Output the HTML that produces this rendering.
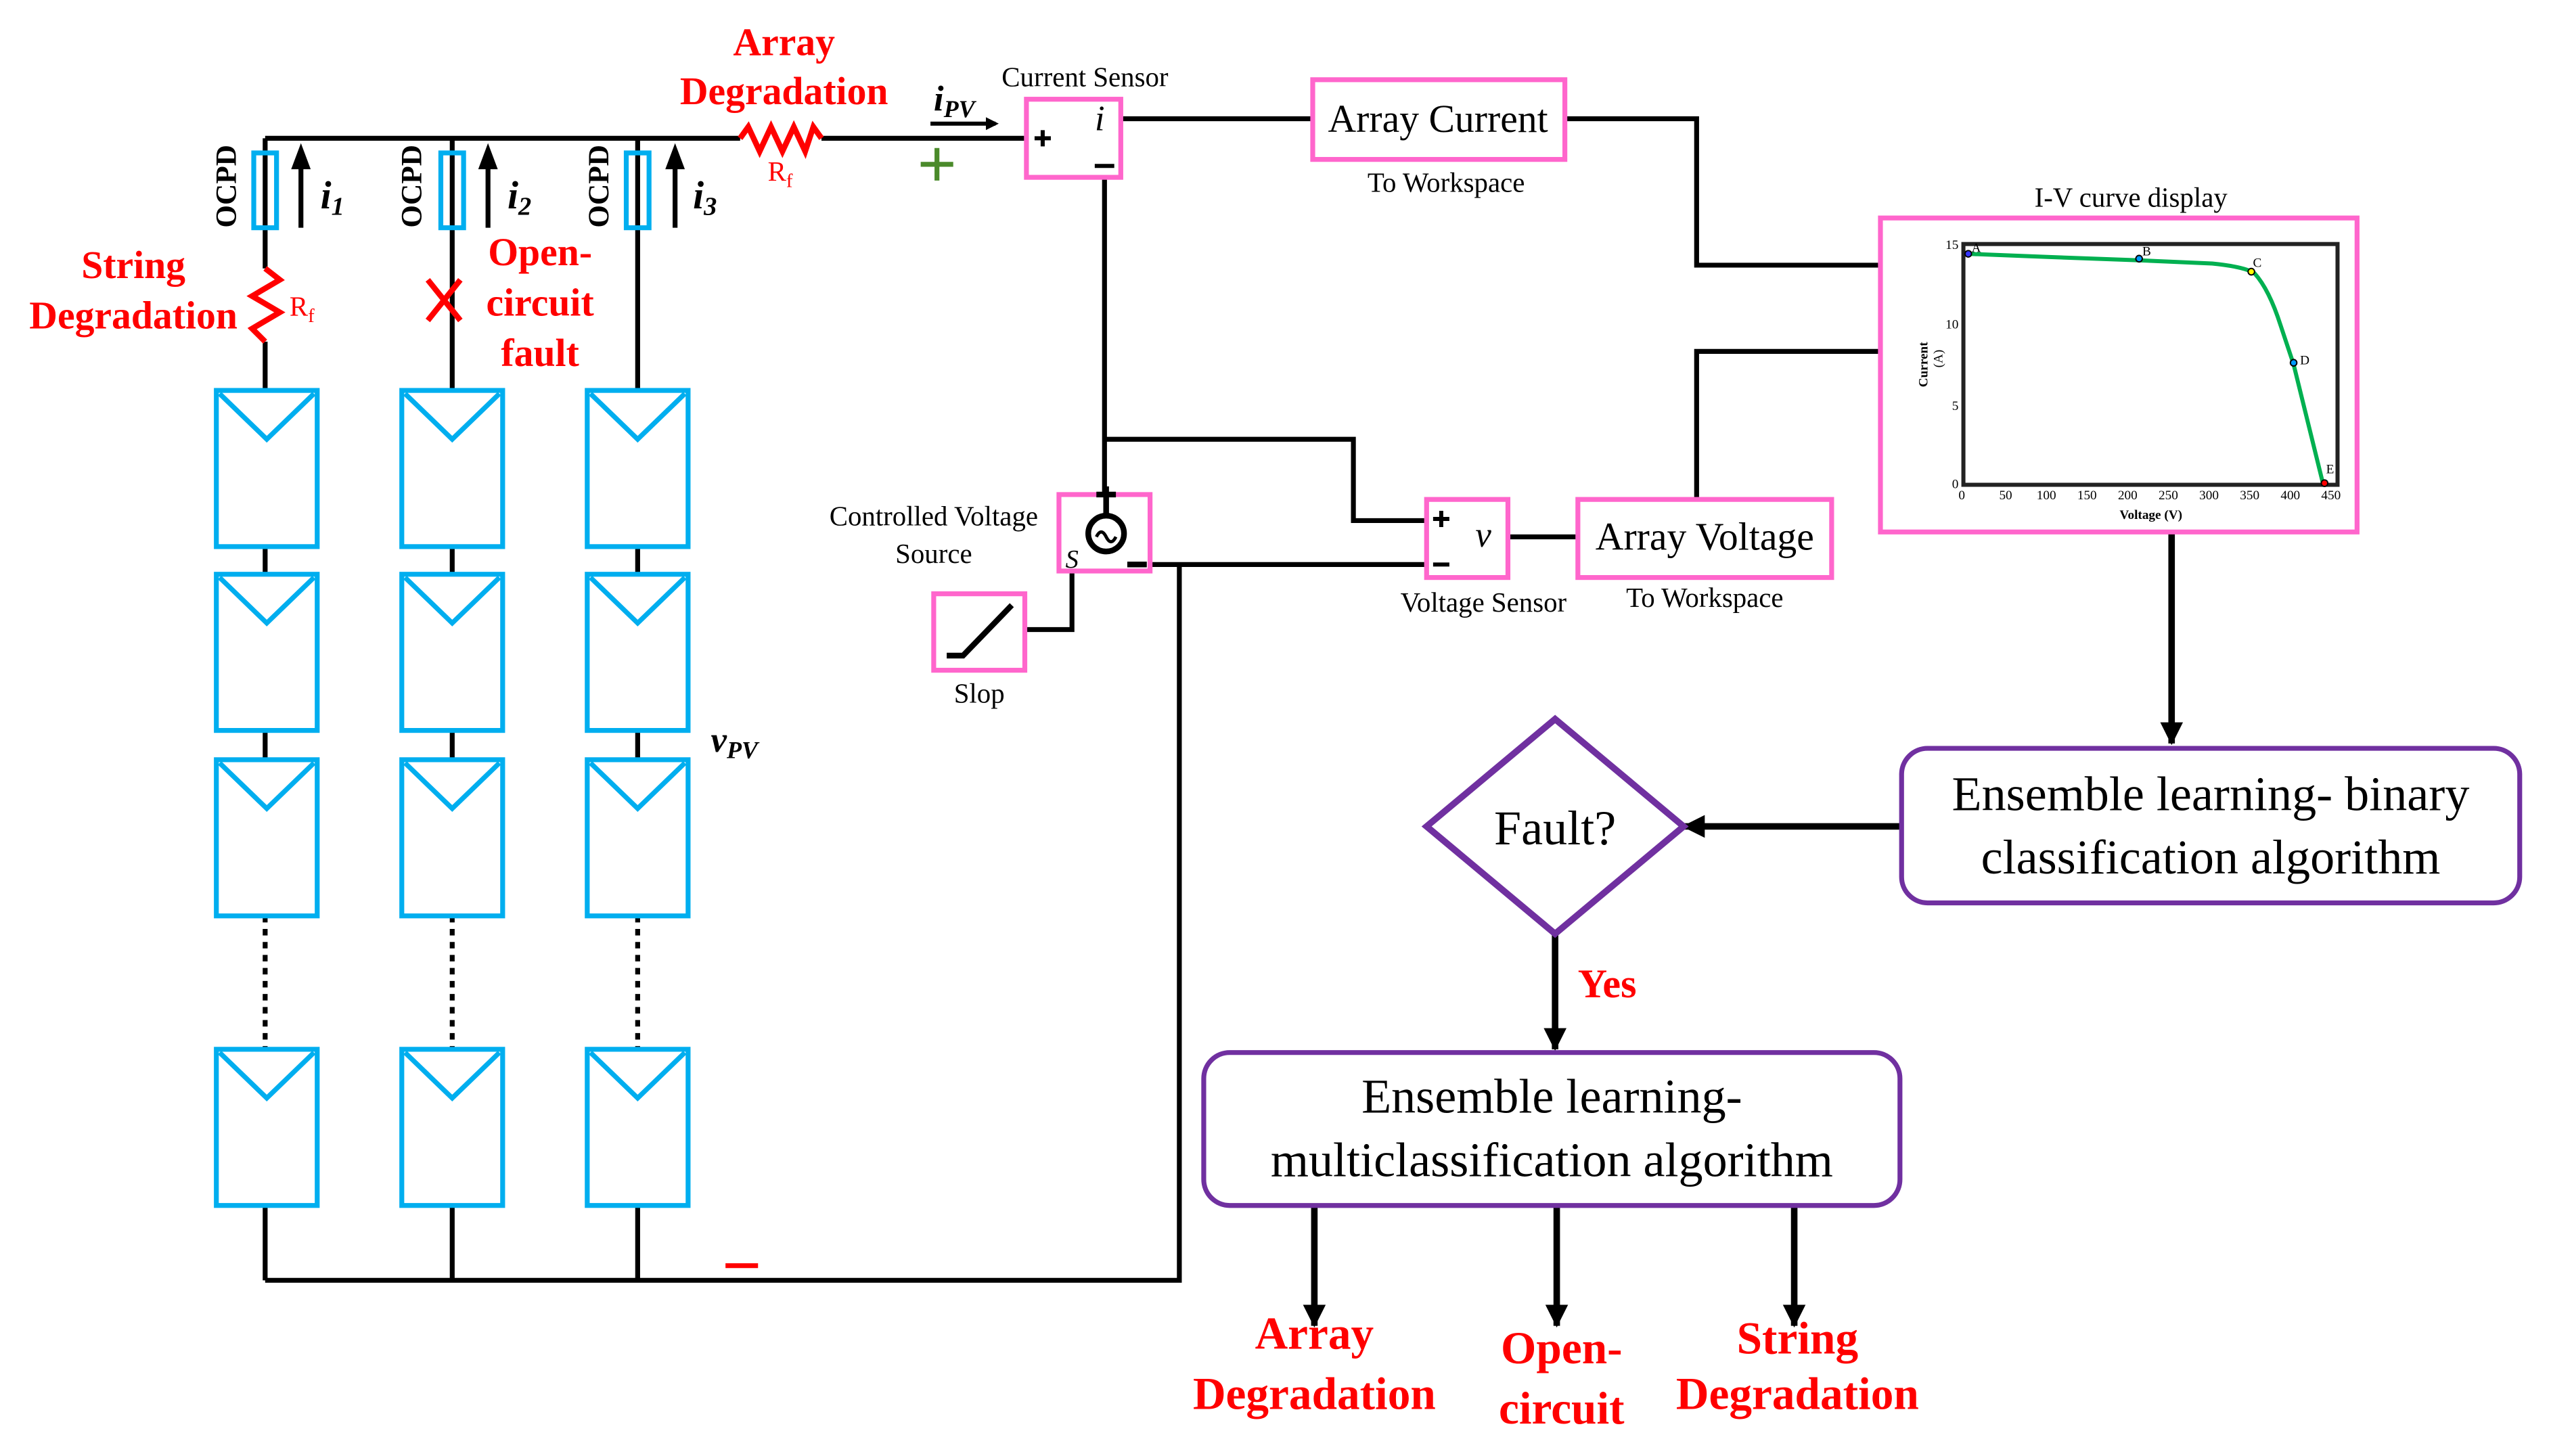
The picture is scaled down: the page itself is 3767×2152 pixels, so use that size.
<!DOCTYPE html>
<html><head><meta charset="utf-8"><style>
html,body{margin:0;padding:0;background:#fff;}
svg{display:block;font-family:"Liberation Serif","DejaVu Serif",serif;}
svg text{font-family:"Liberation Serif","DejaVu Serif",serif;}
</style></head><body>
<svg width="3767" height="2152" viewBox="0 0 1567 895" preserveAspectRatio="none" font-family="'Liberation Serif', 'DejaVu Serif', serif" xmlns="http://www.w3.org/2000/svg">
<defs>
<marker id="ah" markerWidth="8" markerHeight="8" refX="6" refY="4" orient="auto" markerUnits="userSpaceOnUse">
<path d="M0,0 L8,4 L0,8 Z" fill="#000"/></marker>
<marker id="am" markerWidth="14" markerHeight="14" refX="13" refY="7" orient="auto" markerUnits="userSpaceOnUse">
<path d="M0,0 L14,7 L0,14 Z" fill="#000"/></marker>
<g id="pv"><rect x="0" y="0" width="62" height="96" fill="none" stroke="#00aeef" stroke-width="3"/><path d="M2,2 L31,30 L60,2" fill="none" stroke="#00aeef" stroke-width="3"/></g>
</defs>

<g stroke="#000" stroke-width="3" fill="none">
<path d="M163,85 H455"/>
<path d="M505,85 H632"/>
<path d="M163,85 V165 M163,210 V240"/>
<path d="M278,85 V240"/>
<path d="M392,85 V240"/>
<path d="M163,336 V353 M163,450 V467 M163,742 V787"/>
<path d="M278,336 V353 M278,450 V467 M278,742 V787"/>
<path d="M392,336 V353 M392,450 V467 M392,742 V787"/>
<path d="M163,787 H725 V347"/>
<path d="M707,347 H877"/>
<path d="M679,109 V305"/>
<path d="M679,270 H832 V320 H877"/>
<path d="M689,73 H807"/>
<path d="M962,73 H1043 V163 H1156"/>
<path d="M1156,216 H1043 V307"/>
<path d="M927,330 H970"/>
<path d="M630,387 H659 V352"/>
<path d="M163,563 V645 M278,563 V645 M392,563 V645" stroke-dasharray="4,4"/>
</g>
<g stroke="#000" stroke-width="4" fill="none">
<path d="M1335,327 V457" marker-end="url(#am)"/>
<path d="M1169,508 H1035" marker-end="url(#am)"/>
<path d="M956,574 V645" marker-end="url(#am)"/>
<path d="M808,741 V815" marker-end="url(#am)"/>
<path d="M957,741 V815" marker-end="url(#am)"/>
<path d="M1103,741 V815" marker-end="url(#am)"/>
</g>

<use href="#pv" x="133" y="240"/><use href="#pv" x="133" y="353"/><use href="#pv" x="133" y="467"/><use href="#pv" x="133" y="645"/>
<use href="#pv" x="247" y="240"/><use href="#pv" x="247" y="353"/><use href="#pv" x="247" y="467"/><use href="#pv" x="247" y="645"/>
<use href="#pv" x="361" y="240"/><use href="#pv" x="361" y="353"/><use href="#pv" x="361" y="467"/><use href="#pv" x="361" y="645"/>

<g fill="none" stroke="#00aeef" stroke-width="3">
<rect x="156" y="94" width="14" height="46"/><rect x="271" y="94" width="14" height="46"/><rect x="385" y="94" width="14" height="46"/>
</g>
<g stroke="#000" stroke-width="3">
<path d="M185,140 V102" /><path d="M300,140 V102"/><path d="M415,140 V102"/>
</g>
<g fill="#000"><path d="M179,104 L185,88 L191,104Z"/><path d="M294,104 L300,88 L306,104Z"/><path d="M409,104 L415,88 L421,104Z"/></g>
<g font-weight="bold" font-size="18">
<text transform="translate(145,140) rotate(-90)">OCPD</text>
<text transform="translate(259,140) rotate(-90)">OCPD</text>
<text transform="translate(374,140) rotate(-90)">OCPD</text>
</g>
<g font-style="italic" font-weight="bold" font-size="24">
<text x="197" y="128">i<tspan font-size="16" dy="4">1</tspan></text>
<text x="312" y="128">i<tspan font-size="16" dy="4">2</tspan></text>
<text x="426" y="128">i<tspan font-size="16" dy="4">3</tspan></text>
</g>

<g stroke="#f00" stroke-width="3.5" fill="none">
<path d="M163,165 L172,172 L155,182 L172,192 L155,202 L163,210"/>
<path d="M455,85 L460,78 L467,93 L474,78 L481,93 L488,78 L495,93 L500,78 L505,85"/>
<path d="M263,172 L283,197 M283,172 L263,197"/>
</g>
<g fill="#f00">
<text x="178" y="194" font-size="17">R<tspan font-size="12" dy="4">f</tspan></text>
<text x="472" y="111" font-size="17">R<tspan font-size="12" dy="4">f</tspan></text>
</g>
<g fill="#f00" font-weight="bold" font-size="24" text-anchor="middle">
<text x="82" y="171">String</text>
<text x="82" y="202">Degradation</text>
<text x="482" y="34">Array</text>
<text x="482" y="64">Degradation</text>
<text x="332" y="163">Open-</text>
<text x="332" y="194">circuit</text>
<text x="332" y="225">fault</text>
<text x="988" y="613" font-size="25">Yes</text>
<text x="808" y="829" font-size="28">Array</text>
<text x="808" y="866" font-size="28">Degradation</text>
<text x="960" y="838" font-size="28">Open-</text>
<text x="960" y="875" font-size="28">circuit</text>
<text x="1105" y="832" font-size="28">String</text>
<text x="1105" y="866" font-size="28">Degradation</text>
</g>
<path d="M566,101 H586 M576,91 V111" stroke="#4a8a2a" stroke-width="3"/>
<path d="M446,778 H466" stroke="#f00" stroke-width="3"/>

<path d="M572,76 H612" stroke="#000" stroke-width="2.5" marker-end="url(#ah)"/>
<text x="574" y="68" font-style="italic" font-weight="bold" font-size="22">i<tspan font-size="15" dy="4">PV</tspan></text>
<text x="437" y="462" font-style="italic" font-weight="bold" font-size="22">v<tspan font-size="15" dy="4">PV</tspan></text>

<g fill="#fff" stroke="#ff66cc" stroke-width="3">
<rect x="631" y="61" width="58" height="48"/>
<rect x="807" y="49" width="155" height="49"/>
<rect x="651" y="304" width="56" height="47"/>
<rect x="574" y="365" width="56" height="47"/>
<rect x="877" y="307" width="50" height="48"/>
<rect x="970" y="307" width="156" height="48"/>
<rect x="1156" y="134" width="293" height="193"/>
</g>
<g stroke="#000" stroke-width="2.5" fill="none">
<path d="M636,85 H646 M641,80 V90"/><path d="M673,102 H685"/>
<path d="M881,319 H891 M886,314 V324"/><path d="M881,347 H891"/>
<circle cx="680" cy="328" r="11" stroke-width="3.5"/>
<path d="M674,304 H686 M680,299 V317" stroke-width="3.5"/>
<path d="M674,330 q3,-6 6,0 q3,6 6,0" stroke-width="2"/>
<path d="M693,347 H705" stroke-width="3.5"/>
<path d="M582,403 H592 L622,372" stroke-width="3.5"/>
</g>
<text x="673" y="80" font-style="italic" font-size="22">i</text>
<text x="907" y="336" font-style="italic" font-size="22">v</text>
<text x="655" y="349" font-style="italic" font-size="16">S</text>
<g font-size="17" text-anchor="middle">
<text x="667" y="53">Current Sensor</text>
<text x="889" y="118">To Workspace</text>
<text x="574" y="323">Controlled Voltage</text>
<text x="574" y="346">Source</text>
<text x="602" y="432">Slop</text>
<text x="912" y="376">Voltage Sensor</text>
<text x="1048" y="373">To Workspace</text>
<text x="1310" y="127">I-V curve display</text>
<text x="884" y="81" font-size="24">Array Current</text>
<text x="1048" y="338" font-size="24">Array Voltage</text>
</g>

<rect x="1207" y="150" width="230" height="148" fill="none" stroke="#222" stroke-width="2.5"/>
<path d="M1209,156 L1260,158 L1315,160 L1360,162 Q1380,164 1386,168 Q1395,178 1402,200 L1410,224 L1428,297" fill="none" stroke="#00b050" stroke-width="2.5"/>
<g stroke="#000" stroke-width="0.8">
<circle cx="1210" cy="156" r="2" fill="#33f"/><circle cx="1315" cy="159" r="2" fill="#09f"/><circle cx="1384" cy="167" r="2" fill="#ff0"/><circle cx="1410" cy="223" r="2" fill="#09f"/><circle cx="1429" cy="297" r="2" fill="#f00"/>
</g>
<g font-size="8">
<text x="1212" y="155">A</text><text x="1317" y="157">B</text><text x="1385" y="164">C</text><text x="1414" y="224">D</text><text x="1430" y="291">E</text>
<text x="1196" y="153">15</text><text x="1196" y="202">10</text><text x="1200" y="252">5</text><text x="1200" y="300">0</text>
<text x="1204" y="307">0</text><text x="1229" y="307">50</text><text x="1252" y="307">100</text><text x="1277" y="307">150</text><text x="1302" y="307">200</text><text x="1327" y="307">250</text><text x="1352" y="307">300</text><text x="1377" y="307">350</text><text x="1402" y="307">400</text><text x="1427" y="307">450</text>
<text x="1303" y="319" font-weight="bold">Voltage (V)</text>
<text transform="translate(1185,238) rotate(-90)" font-weight="bold">Current</text>
<text transform="translate(1194,226) rotate(-90)">(A)</text>
</g>

<rect x="1169" y="460" width="380" height="95" rx="16" fill="#fff" stroke="#7030a0" stroke-width="3"/>
<rect x="740" y="647" width="428" height="94" rx="16" fill="#fff" stroke="#7030a0" stroke-width="3"/>
<path d="M956,442 L1035,508 L956,574 L877,508 Z" fill="#fff" stroke="#7030a0" stroke-width="4"/>
<g font-size="30" text-anchor="middle">
<text x="1359" y="498">Ensemble learning- binary</text>
<text x="1359" y="537">classification algorithm</text>
<text x="954" y="684">Ensemble learning-</text>
<text x="954" y="723">multiclassification algorithm</text>
<text x="956" y="519">Fault?</text>
</g>
</svg>
</body></html>
